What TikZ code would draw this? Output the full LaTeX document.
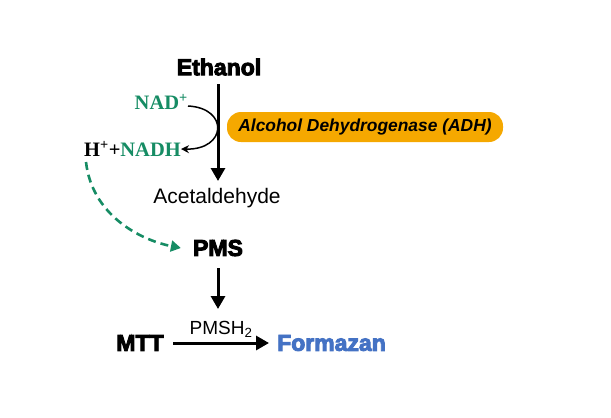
\documentclass[tikz,border=0pt]{standalone}
\usepackage{fontspec}
\setmainfont{Liberation Serif}
\setsansfont{Liberation Sans}
\newfontfamily\heavyfont[FakeBold=4]{Liberation Sans Bold}
\usetikzlibrary{arrows.meta}
\definecolor{nadgreen}{RGB}{22,140,100}
\definecolor{adhorange}{RGB}{245,168,0}
\definecolor{fblue}{RGB}{68,114,196}
\tikzset{
  heavy/.style={font=\heavyfont\fontsize{23}{25}\selectfont, inner sep=0pt},
  plain/.style={font=\sffamily\fontsize{21}{23}\selectfont, inner sep=0pt},
  nad/.style={font=\bfseries\fontsize{20.5}{23}\selectfont, inner sep=0pt},
  mainarrow/.style={line width=3pt, -{Triangle[length=13pt,width=14pt]}},
  thinarrow/.style={line width=1.5pt, -{Stealth[length=8pt,width=8pt]}},
  dasharrow/.style={nadgreen, line width=2.6pt, dash pattern=on 8pt off 5pt, -{Triangle[length=10pt,width=11pt]}},
}
\begin{document}
\begin{tikzpicture}[x=1pt,y=-1pt]
\useasboundingbox (0,0) rectangle (611,418);
\node[heavy] (eth) at (219,67) {Ethanol};
\node[plain] (ace) at (217,198) {Acetaldehyde};
\node[heavy] (pms) at (218,248) {PMS};
\node[heavy] (mtt) at (140,343) {MTT};
\node[heavy, text=fblue, anchor=west] (form) at (277,343) {Formazan};
\node[nad, text=nadgreen, anchor=east] (nadp) at (188,102) {NAD\textsuperscript{+}};
\node[nad, anchor=east] (nadh) at (181,149) {H\textsuperscript{+}+\textcolor{nadgreen}{NADH}};
\node[fill=adhorange, rounded corners=14pt, minimum width=276pt, minimum height=30pt, inner sep=0pt,
  font=\sffamily\bfseries\itshape\fontsize{17.4}{19}\selectfont] (adh) at (365,127) {Alcohol Dehydrogenase (ADH)};
\coordinate (a1) at (218,84);
\coordinate (a2) at (218,181);
\draw[mainarrow] (a1) -- (a2);
\draw[thinarrow] (nadp.east) ++(0,4) .. controls (229,108) and (227,150) .. (nadh.east);
\coordinate (d1) at (86,162);
\draw[dasharrow] (d1) .. controls (92,215) and (140,240) .. ([xshift=-12pt]pms.west);
\coordinate (b1) at (218,268);
\coordinate (b2) at (218,309);
\draw[mainarrow] (b1) -- (b2);
\coordinate (c1) at (173,343);
\draw[mainarrow] (c1) -- ([xshift=-8pt]form.west) node[midway, above=4pt, inner sep=0pt, font=\sffamily\fontsize{19}{21}\selectfont] (pmsh) {PMSH\textsubscript{2}};
\end{tikzpicture}
\end{document}
